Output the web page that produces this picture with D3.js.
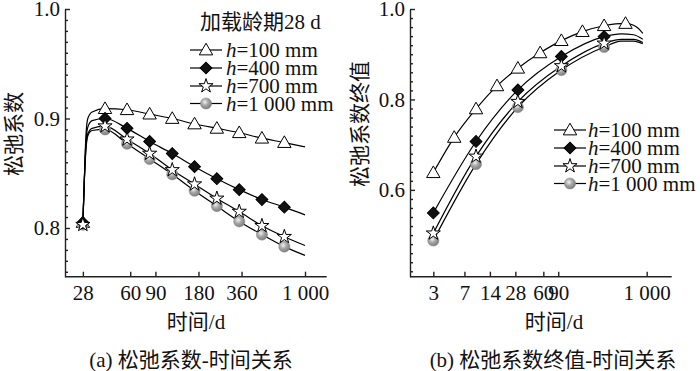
<!DOCTYPE html>
<html>
<head>
<meta charset="utf-8">
<script src="https://cdn.jsdelivr.net/npm/d3@7"></script>
<style>
  body { margin: 0; background: #fff; }
  text { font-family: "Liberation Serif", "Noto Sans CJK SC", serif; font-size: 21px; fill: #111; }
</style>
</head>
<body>
<div id="chart"></div>
<script>
// (a) relaxation coefficient vs time, loading age 28 d
const daysA = [40, 57, 82, 118, 169, 242, 347, 500, 717];
const h100A = [0.909, 0.908, 0.904, 0.900, 0.895, 0.891, 0.887, 0.882, 0.878];
const h400A = [0.900, 0.891, 0.879, 0.868, 0.856, 0.845, 0.835, 0.826, 0.819];
const h700A = [0.893, 0.881, 0.868, 0.853, 0.840, 0.827, 0.815, 0.802, 0.792];
const h1000A = [0.890, 0.877, 0.863, 0.849, 0.834, 0.820, 0.806, 0.794, 0.783];
// start of curves (steep rise after loading at 28 d)
const riseDaysA = [28, 28.6, 29.3, 30.3, 32.5];
const riseA = [
  [0.805, 0.84, 0.880, 0.900, 0.906],
  [0.805, 0.84, 0.875, 0.892, 0.898],
  [0.803, 0.84, 0.870, 0.886, 0.891],
  [0.803, 0.84, 0.868, 0.884, 0.889]
];
const endA = [0.874, 0.812, 0.784, 0.775]; // at 1 000 d

// (b) final relaxation coefficient vs time
const daysB = [3, 5.3, 9.6, 17, 30, 55, 98, 174, 314, 562];
const h100B = [0.638, 0.716, 0.779, 0.830, 0.869, 0.903, 0.930, 0.950, 0.963, 0.968];
const daysB2 = [3, 9.6, 30, 98, 314];
const h400B = [0.549, 0.707, 0.821, 0.895, 0.939];
const h700B = [0.504, 0.674, 0.795, 0.874, 0.924];
const h1000B = [0.488, 0.657, 0.783, 0.865, 0.916];
const tailDaysB = [[700, 800, 900], [500, 700, 900], [500, 700, 900], [500, 700, 900]];
const tailB = [
  [0.964, 0.957, 0.946],
  [0.945, 0.943, 0.933],
  [0.933, 0.933, 0.926],
  [0.929, 0.929, 0.923]
];

const names = ['100', '400', '700', '1 000'];
const kinds = ['tri', 'dia', 'star', 'ball'];
const xTicksA = [28, 60, 90, 180, 360, 1000];
const xTicksB = [3, 7, 14, 28, 60, 90, 1000];

const svg = d3.select('#chart').append('svg')
  .attr('width', 700).attr('height', 371);

const defs = svg.append('defs');
const grad = defs.append('radialGradient').attr('id', 'ball')
  .attr('cx', '40%').attr('cy', '38%').attr('r', '65%');
grad.append('stop').attr('offset', '0%').attr('stop-color', '#f2f2f2');
grad.append('stop').attr('offset', '45%').attr('stop-color', '#a8a8a8');
grad.append('stop').attr('offset', '100%').attr('stop-color', '#7a7a7a');

const fmtX = d => d === 1000 ? '1 000' : String(d);

function marker(g, kind, x, y) {
  if (kind === 'ball') {
    g.append('circle').attr('cx', x).attr('cy', y).attr('r', 5.6)
      .attr('fill', 'url(#ball)').attr('stroke', '#888').attr('stroke-width', 0.5);
    return;
  }
  const sym = kind === 'tri' ? d3.symbolTriangle : kind === 'dia' ? d3.symbolSquare : d3.symbolStar;
  const size = kind === 'tri' ? 78 : kind === 'dia' ? 70 : 62;
  const p = g.append('path').attr('d', d3.symbol(sym, size)())
    .attr('transform', `translate(${x},${y + (kind === 'tri' ? 1 : 0)})` + (kind === 'dia' ? ' rotate(45)' : ''))
    .attr('stroke', '#000').attr('stroke-width', 1)
    .attr('fill', kind === 'dia' ? '#111' : '#fff');
}

function axes(x, y, xTicks, yMajor, yMinor, bottom, left) {
  const gx = svg.append('g').attr('transform', `translate(0,${bottom})`)
    .call(d3.axisBottom(x).tickValues(xTicks).tickSizeInner(-5).tickSizeOuter(0)
      .tickPadding(8).tickFormat(fmtX));
  const gyMinor = svg.append('g').attr('transform', `translate(${left},0)`)
    .call(d3.axisLeft(y).tickValues(yMinor).tickSizeInner(-3).tickSizeOuter(0).tickFormat(''));
  gyMinor.select('.domain').remove();
  const gy = svg.append('g').attr('transform', `translate(${left},0)`)
    .call(d3.axisLeft(y).tickValues(yMajor).tickSizeInner(-5).tickSizeOuter(0)
      .tickPadding(5).tickFormat(d3.format('.1f')));
  [gx, gy, gyMinor].forEach(g => {
    g.selectAll('path,line').attr('stroke', '#222').attr('stroke-width', 1.4);
    g.selectAll('text').attr('font-size', null).attr('font-family', null).attr('fill', '#111');
  });
  // extend x domain line to the y axis
  gx.select('.domain').attr('d', `M${left},0H${x.range()[1]}`);
}

function legend(x0, rows, textX) {
  const g = svg.append('g');
  rows.forEach((ry, i) => {
    g.append('line').attr('x1', x0).attr('x2', x0 + 32).attr('y1', ry).attr('y2', ry)
      .attr('stroke', '#000').attr('stroke-width', 1.2);
    marker(g, kinds[i], x0 + 16, ry);
    const t = g.append('text').attr('x', textX).attr('y', ry).attr('dy', '0.35em');
    t.append('tspan').attr('font-style', 'italic').text('h');
    t.append('tspan').text('=' + names[i] + ' mm');
  });
}

const line = d3.line().curve(d3.curveMonotoneX);

// ---------- panel (a)
{
  const x = d3.scaleLog().domain([21, 1418]).range([65, 326.7]);
  const y = d3.scaleLinear().domain([0.7555, 1.0]).range([276.7, 9]);
  const major = [0.8, 0.9, 1.0];
  const minor = d3.range(76, 100).map(v => v / 100).filter(v => !major.includes(v));
  axes(x, y, xTicksA, major, minor, 276.7, 65);

  const seriesA = [h100A, h400A, h700A, h1000A];
  const g = svg.append('g');
  seriesA.forEach((vals, i) => {
    const pts = riseDaysA.map((d, j) => [d, riseA[i][j]])
      .concat(daysA.map((d, j) => [d, vals[j]]))
      .concat([[1000, endA[i]]]);
    g.append('path').attr('d', line(pts.map(p => [x(p[0]), y(p[1])])))
      .attr('fill', 'none').attr('stroke', '#000').attr('stroke-width', 1.2);
  });
  [0, 3, 1, 2].forEach(i => {
    marker(g, kinds[i], x(28), y(riseA[i][0]));
    daysA.forEach((d, j) => marker(g, kinds[i], x(d), y(seriesA[i][j])));
  });

  svg.append('text').attr('x', 200).attr('y', 22).attr('dy', '0.35em').text('加载龄期28 d');
  legend(190, [50, 68, 86, 103.5], 226);

  svg.append('text').attr('transform', 'translate(14,134) rotate(-90)')
    .attr('text-anchor', 'middle').attr('dy', '0.35em').text('松弛系数');
  svg.append('text').attr('x', 196).attr('y', 322).attr('text-anchor', 'middle')
    .attr('dy', '0.35em').text('时间/d');
  svg.append('text').attr('x', 191).attr('y', 360).attr('text-anchor', 'middle')
    .attr('dy', '0.35em').text('(a) 松弛系数-时间关系');
}

// ---------- panel (b)
{
  const x = d3.scaleLog().domain([1.59, 1977]).range([410, 671.7]);
  const y = d3.scaleLinear().domain([0.408, 1.0]).range([276.7, 9]);
  const major = [0.6, 0.8, 1.0];
  const minor = d3.range(21, 50).map(v => v / 50).filter(v => !major.includes(v));
  axes(x, y, xTicksB, major, minor, 276.7, 410);

  const seriesB = [[daysB, h100B], [daysB2, h400B], [daysB2, h700B], [daysB2, h1000B]];
  const g = svg.append('g');
  seriesB.forEach(([ds, vals], i) => {
    const pts = ds.map((d, j) => [d, vals[j]])
      .concat(tailDaysB[i].map((d, j) => [d, tailB[i][j]]));
    g.append('path').attr('d', line(pts.map(p => [x(p[0]), y(p[1])])))
      .attr('fill', 'none').attr('stroke', '#000').attr('stroke-width', 1.2);
  });
  [0, 3, 1, 2].forEach(i => {
    const [ds, vals] = seriesB[i];
    ds.forEach((d, j) => marker(g, kinds[i], x(d), y(vals[j])));
  });

  legend(554, [130, 148, 166, 183.5], 588);

  svg.append('text').attr('transform', 'translate(360,124) rotate(-90)')
    .attr('text-anchor', 'middle').attr('dy', '0.35em').text('松弛系数终值');
  svg.append('text').attr('x', 554).attr('y', 322).attr('text-anchor', 'middle')
    .attr('dy', '0.35em').text('时间/d');
  svg.append('text').attr('x', 553).attr('y', 360).attr('text-anchor', 'middle')
    .attr('dy', '0.35em').text('(b) 松弛系数终值-时间关系');
}
</script>
</body>
</html>
